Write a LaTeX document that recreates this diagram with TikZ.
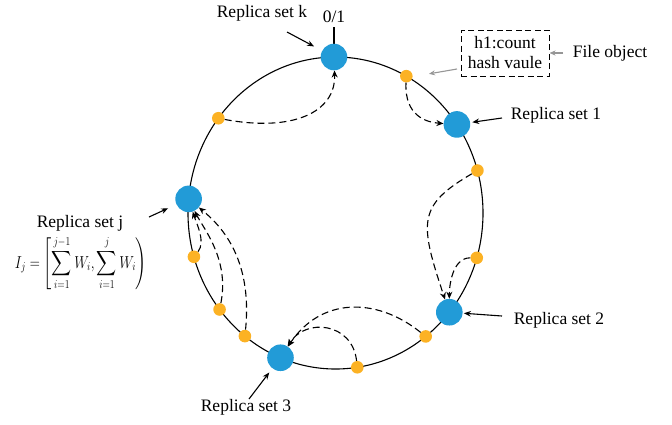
\documentclass[tikz,border=0pt]{standalone}
\usepackage{amsmath}
\usepackage{fontspec}
\setmainfont{Liberation Serif}
\usetikzlibrary{arrows.meta,calc}
\definecolor{rsblue}{RGB}{34,155,215}
\definecolor{vnorange}{RGB}{252,178,36}
\definecolor{pgray}{RGB}{150,150,150}
\begin{document}
\begin{tikzpicture}[x=1pt,y=-1pt,
  replica/.style={circle,fill=rsblue,inner sep=0pt,minimum size=26.6pt},
  vnode/.style={circle,fill=vnorange,inner sep=0pt,minimum size=12.6pt},
  hop/.style={dashed,dash pattern=on 7pt off 4pt,line width=1.1pt,-{Stealth[length=7pt,width=6pt]}},
  pointer/.style={line width=1.1pt,-{Stealth[length=7pt,width=5.5pt]}},
  gpointer/.style={pgray,line width=1.1pt,-{Stealth[length=6pt,width=5pt]}},
  lbl/.style={font=\fontsize{17.5}{20}\selectfont,inner sep=0pt},
  ring/.style={line width=1.1pt}]
\useasboundingbox (0,0) rectangle (672,424);

% the hash ring
\coordinate (ctr) at (335.5,213);
\draw[ring] (ctr) ellipse [x radius=147.5pt, y radius=156pt];

% positions on the ring, by parameter angle (clockwise from east)
\foreach \n/\t in {pk/-90.6, pa/-61.3, p1/-34.6, pb/-15.8, pc/16.7, p2/39.5,
                   pd/52.3, pe/81.5, p3/111.9, pf/127.9, pg/141.8, ph/163.7,
                   pj/185.2, pi/217.4}
  \coordinate (\n) at ($(ctr)+({147.5*cos(\t)},{156*sin(\t)})$);

% zero point tick
\coordinate (tick) at ($(pk)+(0,-30)$);
\draw[ring] (pk) -- (tick);
\node[lbl] (zero) at (334,17) {0/1};

% replica sets and virtual nodes
\node[replica] (k) at (pk) {};
\node[replica] (r1) at (p1) {};
\node[replica] (r2) at (p2) {};
\node[replica] (r3) at (p3) {};
\node[replica] (rj) at (pj) {};
\node[vnode] (va) at (pa) {};
\node[vnode] (vb) at (pb) {};
\node[vnode] (vc) at (pc) {};
\node[vnode] (vd) at (pd) {};
\node[vnode] (ve) at (pe) {};
\node[vnode] (vf) at (pf) {};
\node[vnode] (vg) at (pg) {};
\node[vnode] (vh) at (ph) {};
\node[vnode] (vi) at (pi) {};

% virtual node to replica set mapping
\draw[hop] (vi) .. controls +(75,14) and +(2,55) .. (k);
\draw[hop] (va) .. controls +(-2,40) and +(-30,-2) .. (r1);
\draw[hop] (vb) .. controls +(-60,35) and +(-30,-90) .. (r2);
\draw[hop] (vc) .. controls +(-25,0) and +(0,-25) .. (r2);
\draw[hop] (vd) .. controls +(-50,-40) and +(40,-60) .. (r3);
\draw[hop] (ve) .. controls +(-5,-45) and +(25,-40) .. (r3);
\draw[hop] (vh) .. controls +(12,-15) and +(8,25) .. (rj);
\draw[hop] (vg) .. controls +(10,-50) and +(15,30) .. (rj);
\draw[hop] (vf) .. controls +(8,-80) and +(30,25) .. (rj);

% labels
\node[lbl] (lk) at (262,13) {Replica set k};
\node[lbl] (l1) at (556,115) {Replica set 1};
\node[lbl] (l2) at (559,320) {Replica set 2};
\node[lbl] (l3) at (246,407) {Replica set 3};
\node[lbl] (lj) at (80,223) {Replica set j};
\node[inner sep=0pt,font=\fontsize{17}{20}\selectfont] (range) at (81,263)
  {\resizebox*{132pt}{54pt}{$\displaystyle I_j=\left[\sum_{i=1}^{j-1}W_i,\sum_{i=1}^{j}W_i\right)$}};

\coordinate (ak) at (287,32);
\coordinate (a1) at (502,118);
\coordinate (a2) at (502,316);
\coordinate (a3) at (249,399);
\coordinate (aj) at (149,217);
\draw[pointer,shorten >=9pt] (ak) -- (k);
\draw[pointer,shorten >=2pt] (a1) -- (r1);
\draw[pointer,shorten >=1pt] (a2) -- (r2);
\draw[pointer,shorten >=5pt] (a3) -- (r3);
\draw[pointer,shorten >=9pt] (aj) -- (rj);

% file object
\node[draw,dashed,dash pattern=on 6pt off 3.5pt,line width=1pt,minimum width=88pt,minimum height=46pt,
  align=center,inner sep=2pt,font=\fontsize{17.5}{20}\selectfont] (file) at (505,53)
  {h1:count\\hash vaule};
\node[lbl] (lf) at (610,53) {File object};
\coordinate (af) at (563,53);
\draw[gpointer] (af) -- (file.east);
\coordinate (fa) at (457,69);
\draw[gpointer,shorten >=1pt] (fa) -- (428,74);
\end{tikzpicture}
\end{document}
